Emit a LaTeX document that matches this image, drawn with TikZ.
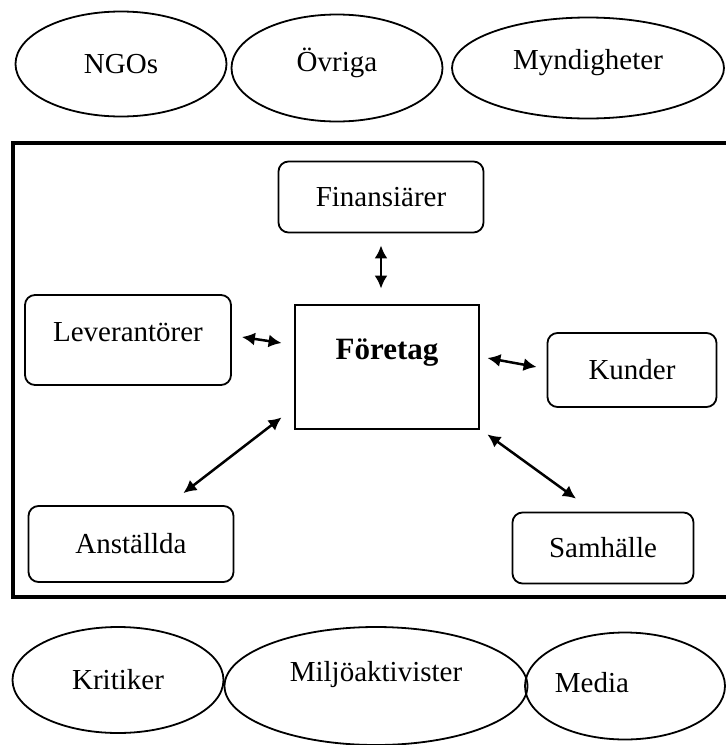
\documentclass[tikz,border=0pt]{standalone}
\usepackage{fontspec}
\setmainfont{Liberation Serif}
\usetikzlibrary{shapes.geometric,arrows.meta}

\begin{document}
\begin{tikzpicture}[x=1pt,y=-1pt,
  every node/.style={font=\fontsize{29}{32}\selectfont},
  ell/.style={draw, ellipse, line width=1.8pt, inner sep=0pt},
  rbox/.style={draw, rounded corners=10pt, line width=1.8pt, inner sep=0pt},
  arr/.style={{Latex[length=13pt,width=13pt]}-{Latex[length=13pt,width=13pt]}, line width=2.5pt}]
\clip (0,0) rectangle (726,745);
% outer stakeholders, top row
\node[ell, minimum width=211pt, minimum height=105pt] (ngo) at (121,64) {NGOs};
\node[ell, minimum width=211pt, minimum height=107pt,
      label={[yshift=5pt]center:Övriga}] (ovr) at (337,68) {};
\node[ell, minimum width=272pt, minimum height=101pt,
      label={[yshift=5pt]center:Myndigheter}] (myn) at (588,68) {};
% frame
\draw[line width=4pt] (13,143) rectangle (740,597);
% inner stakeholders
\node[rbox, minimum width=205pt, minimum height=71pt] (fin) at (381,197) {Finansiärer};
\node[rbox, minimum width=206pt, minimum height=90pt,
      label={[yshift=8pt]center:Leverantörer}] (lev) at (128,340) {};
\node[draw, line width=2.8pt, minimum width=184pt, minimum height=124pt,
      label={[yshift=14pt,font=\bfseries\fontsize{31}{34}\selectfont]center:Företag}] (for) at (387,367) {};
\node[rbox, minimum width=169pt, minimum height=74pt] (kun) at (632,370) {Kunder};
\node[rbox, minimum width=205pt, minimum height=76pt] (anst) at (131,544) {Anställda};
\node[rbox, minimum width=181pt, minimum height=71pt] (sam) at (603,548) {Samhälle};
% relations
\draw[arr, shorten <=12pt, shorten >=15pt] (fin.south) -- (fin.south |- for.north);
\draw[arr] ([xshift=10pt,yshift=3pt]lev.east) -- ([xshift=-12pt,yshift=24pt]for.west);
\draw[arr] ([xshift=7pt,yshift=9pt]for.east) -- ([xshift=-10pt,yshift=3pt]kun.west);
\draw[arr] ([xshift=-12pt,yshift=13pt]for.south west) -- ([xshift=-51pt,yshift=12pt]anst.north east);
\draw[arr] ([xshift=7pt,yshift=-4pt]for.south east) -- ([xshift=-27pt,yshift=13pt]sam.north);
% outer stakeholders, bottom row
\node[ell, minimum width=211pt, minimum height=106pt] (kri) at (118,680) {Kritiker};
\node[ell, minimum width=303pt, minimum height=118pt,
      label={[yshift=11pt]center:Miljöaktivister}] (mil) at (376,686) {};
\node[ell, minimum width=200pt, minimum height=107pt,
      label={[xshift=-33pt,yshift=3pt]center:Media}] (med) at (625,686) {};
\end{tikzpicture}
\end{document}
